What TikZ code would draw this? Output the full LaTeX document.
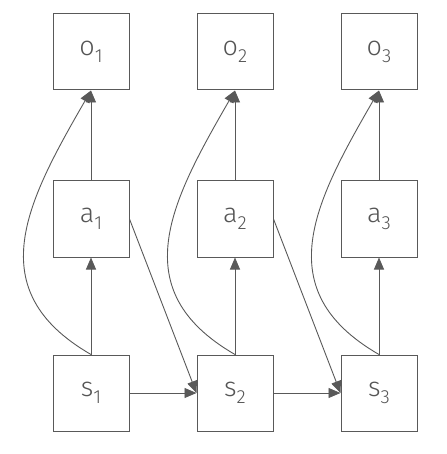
\documentclass[tikz,border=0pt]{standalone}
\usepackage{fontspec}
\setmainfont{Fira Sans}[UprightFont=* Light]
\usepackage{tikz}
\usetikzlibrary{arrows.meta,positioning}
\definecolor{lineGray}{HTML}{595959}
\definecolor{textGray}{HTML}{555555}
\newcommand{\lbl}[2]{#1\raisebox{-7pt}{\fontsize{19}{19}\selectfont#2}}

\begin{document}
\begin{tikzpicture}[x=1pt,y=-1pt,>={Triangle[length=12pt,width=10pt]},node distance=90pt and 67pt]
  \tikzset{var/.style={draw=lineGray,line width=1pt,minimum size=76pt,inner sep=0pt,text=textGray,font=\fontsize{27}{27}\selectfont},
           link/.style={->,lineGray,line width=0.9pt}}
  \useasboundingbox (0,0) rectangle (446,454);
  \node[var] (o1) at (91,52) {\lbl{o}{1}};
  \node[var,right=of o1] (o2) {\lbl{o}{2}};
  \node[var,right=of o2] (o3) {\lbl{o}{3}};
  \node[var,below=90pt of o1] (a1) {\lbl{a}{1}};
  \node[var,below=90pt of o2] (a2) {\lbl{a}{2}};
  \node[var,below=90pt of o3] (a3) {\lbl{a}{3}};
  \node[var,below=97pt of a1] (s1) {\lbl{s}{1}};
  \node[var,below=97pt of a2] (s2) {\lbl{s}{2}};
  \node[var,below=97pt of a3] (s3) {\lbl{s}{3}};
  \foreach \i in {1,2,3}{
    \draw[link] (s\i) -- (a\i);
    \draw[link] (a\i) -- (o\i);
    \draw[link] (s\i.north) to[out=150,in=240,looseness=1.25] (o\i.south);
  }
  \draw[link] (s1) -- (s2);\draw[link] (s2) -- (s3);
  \draw[link] (a1.east) -- (s2.west);\draw[link] (a2.east) -- (s3.west);
\end{tikzpicture}
\end{document}
